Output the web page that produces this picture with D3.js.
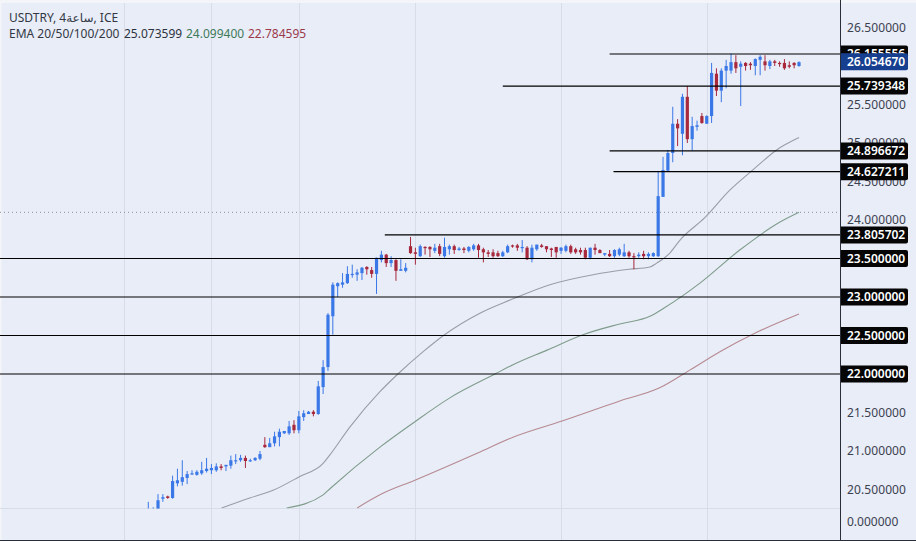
<!DOCTYPE html>
<html><head><meta charset="utf-8">
<style>
html,body{margin:0;padding:0;background:#e8edf8;overflow:hidden}
svg{display:block}
text{font-family:"Noto Sans","DejaVu Sans",sans-serif}
</style>
<script src="https://cdnjs.cloudflare.com/ajax/libs/d3/7.8.5/d3.min.js"></script>
</head><body>
<svg id="c" width="916" height="541"></svg>
<script>
const opens=[20.20,20.20,20.24,20.38,20.41,20.39,20.58,20.60,20.65,20.70,
20.69,20.71,20.74,20.75,20.75,20.80,20.80,20.81,20.87,20.88,
20.91,20.87,20.88,20.90,21.08,21.05,21.10,21.18,21.23,21.23,
21.34,21.27,21.44,21.48,21.51,21.48,21.83,22.09,22.75,23.14,
23.16,23.18,23.29,23.29,23.31,23.39,23.35,23.30,23.48,23.55,
23.44,23.48,23.34,23.34,23.66,23.58,23.53,23.65,23.65,23.60,
23.66,23.53,23.62,23.66,23.61,23.63,23.60,23.62,23.67,23.62,
23.58,23.58,23.57,23.53,23.58,23.67,23.67,23.64,23.64,23.49,
23.62,23.67,23.66,23.63,23.65,23.60,23.60,23.66,23.62,23.61,
23.61,23.51,23.64,23.61,23.55,23.56,23.53,23.55,23.53,23.58,
23.53,23.53,23.56,23.53,23.53,23.53,24.30,24.64,24.87,25.25,
25.12,25.60,25.05,25.21,25.35,25.25,25.35,25.90,25.68,25.94,
25.94,26.05,25.99,26.04,26.03,26.00,26.08,26.06,26.00,26.06,
26.04,26.04,26.01,26.04,26.00];
const highs=[20.34,20.27,20.44,20.44,20.42,20.68,20.77,20.88,20.74,20.75,
20.75,20.86,20.91,20.83,20.84,20.83,20.82,20.94,20.96,20.95,
20.94,20.90,20.92,21.00,21.18,21.17,21.25,21.29,21.26,21.39,
21.40,21.52,21.53,21.52,21.53,21.91,22.18,22.79,23.19,23.19,
23.31,23.40,23.42,23.36,23.39,23.40,23.39,23.51,23.60,23.56,
23.53,23.49,23.49,23.44,23.78,23.64,23.68,23.66,23.66,23.69,
23.69,23.77,23.68,23.68,23.65,23.65,23.66,23.69,23.69,23.64,
23.61,23.62,23.60,23.60,23.68,23.68,23.69,23.74,23.66,23.68,
23.68,23.69,23.66,23.64,23.65,23.65,23.68,23.68,23.64,23.64,
23.64,23.64,23.69,23.62,23.57,23.61,23.62,23.64,23.69,23.60,
23.57,23.58,23.60,23.58,23.58,24.63,24.82,24.91,25.47,25.31,
25.64,25.74,25.34,25.29,25.39,25.36,26.04,25.97,25.97,26.08,
26.16,26.14,26.06,26.05,26.05,26.10,26.14,26.14,26.08,26.08,
26.06,26.09,26.06,26.05,26.06];
const lows=[20.18,20.18,20.22,20.34,20.38,20.38,20.54,20.55,20.57,20.69,
20.68,20.69,20.72,20.70,20.73,20.75,20.74,20.77,20.83,20.86,
20.78,20.86,20.87,20.88,21.04,21.05,21.06,21.06,21.22,21.21,
21.23,21.23,21.39,21.48,21.45,21.47,21.74,22.04,22.51,23.00,
23.12,23.17,23.25,23.21,23.22,23.29,23.25,23.04,23.45,23.39,
23.39,23.21,23.34,23.32,23.56,23.42,23.52,23.55,23.52,23.57,
23.53,23.51,23.55,23.56,23.60,23.57,23.58,23.60,23.51,23.45,
23.52,23.51,23.52,23.52,23.57,23.64,23.60,23.58,23.48,23.45,
23.60,23.64,23.58,23.52,23.51,23.56,23.58,23.56,23.56,23.55,
23.49,23.49,23.55,23.57,23.53,23.52,23.51,23.53,23.52,23.51,
23.36,23.51,23.49,23.49,23.52,23.52,24.30,24.64,24.75,24.96,
24.84,25.00,24.90,25.16,25.25,25.25,25.26,25.61,25.53,25.71,
25.90,25.91,25.48,25.94,25.95,25.88,25.88,25.94,25.96,26.00,
25.99,25.95,25.97,25.97,25.99];
const closes=[20.24,20.22,20.36,20.40,20.39,20.61,20.62,20.66,20.70,20.71,
20.73,20.75,20.77,20.78,20.80,20.78,20.82,20.88,20.88,20.91,
20.87,20.88,20.91,20.96,21.05,21.10,21.19,21.25,21.26,21.32,
21.27,21.45,21.49,21.51,21.48,21.84,22.09,22.77,23.16,23.18,
23.19,23.30,23.30,23.32,23.38,23.36,23.30,23.51,23.55,23.44,
23.48,23.34,23.36,23.38,23.57,23.56,23.66,23.64,23.62,23.64,
23.56,23.65,23.66,23.61,23.63,23.61,23.65,23.67,23.61,23.58,
23.56,23.53,23.53,23.58,23.66,23.66,23.64,23.65,23.49,23.64,
23.68,23.65,23.62,23.61,23.58,23.64,23.66,23.58,23.58,23.58,
23.51,23.64,23.61,23.57,23.57,23.53,23.61,23.62,23.58,23.53,
23.52,23.55,23.53,23.56,23.57,24.31,24.65,24.87,25.25,25.19,
25.60,25.05,25.22,25.23,25.26,25.35,25.91,25.68,25.94,26.00,
26.05,25.97,26.03,26.00,26.01,26.09,26.12,26.01,26.06,26.04,
26.03,25.97,25.99,26.01,26.05];

// EMA lines: candle position and value
const ema20Idx=[15.1,20.9,25.7,31.2,36,37.4,41.5,47.7,51.4,56.6,61,68.3,74.5,82.7,91.6,99,103.3,104.7,107.4,109.5,114.6,119.8,124.5,129.4,134];
const ema20Val=[20.26,20.39,20.49,20.67,20.84,20.95,21.31,21.77,22.00,22.29,22.51,22.79,22.96,23.16,23.29,23.36,23.39,23.44,23.57,23.74,24.03,24.39,24.65,24.91,25.07];
const ema50Idx=[28.5,36,37.4,47.7,54.9,62.1,71.4,75.1,82.1,89.5,97.1,103.3,106.3,113.6,121.8,130,134];
const ema50Val=[20.26,20.43,20.51,21.05,21.38,21.69,22.00,22.12,22.31,22.51,22.65,22.75,22.86,23.18,23.61,23.97,24.10];
const ema100Idx=[43,48.3,54.9,67.7,75.1,85.2,97.1,105.3,111.5,117.7,124.9,134];
const ema100Val=[20.26,20.45,20.62,20.97,21.18,21.39,21.65,21.82,22.05,22.29,22.53,22.78];

// Horizontal levels: value and the candle they start from (null = whole width)
const levels=[26.155556,25.739348,24.896672,24.627211,23.805702,23.5,23,22.5,22];
const levelStart=[95,73,95,95.8,48.7,null,null,null,null];
const lastPrice=26.05467;
const crosshairPrice=24.1;
const tickValues=[26.5,26,25.5,25,24.5,24,23.5,23,22.5,22,21.5,21,20.5];
const gridCandles=[-5,13,31,55,85,115];
const title="USDTRY, 4\u0633\u0627\u0639\u0629, ICE";
const emaLabel="EMA 20/50/100/200";
const emaValues=["25.073599","24.099400","22.784595"];
const lowerPaneLabel="0.000000";

const W=916,H=541,axisX=840,paneBottom=508.5;
const svg=d3.select("#c");
const x=d3.scaleLinear().domain([0,134]).range([148.3,799]);
const y=d3.scaleLinear().domain([20.5,26.5]).range([489.5,27.5]);
const fmt=d3.format(".6f");
const blue="#3b78e7",red="#a8283c";

svg.append("rect").attr("width",W).attr("height",H).attr("fill","#e8edf8");
svg.append("rect").attr("width",W).attr("height",3).attr("fill","#f4f5f8");
svg.append("rect").attr("width",1.5).attr("height",H).attr("fill","#f4f5f8");

// Grid
svg.append("g").selectAll("line").data(gridCandles).join("line")
 .attr("x1",d=>Math.round(x(d))+.5).attr("x2",d=>Math.round(x(d))+.5)
 .attr("y1",3).attr("y2",540).attr("stroke","#d6dce8").attr("stroke-width",1);
svg.append("line").attr("x1",0).attr("x2",axisX).attr("y1",paneBottom).attr("y2",paneBottom).attr("stroke","#d6dce8");
svg.append("line").attr("x1",0).attr("x2",axisX).attr("y1",y(crosshairPrice)).attr("y2",y(crosshairPrice))
 .attr("stroke","#8a8f9a").attr("stroke-dasharray","1 3").attr("stroke-width",1);

const defs=svg.append("defs");
defs.append("clipPath").attr("id","pane").append("rect").attr("x",0).attr("y",0).attr("width",axisX).attr("height",paneBottom);
const pane=svg.append("g").attr("clip-path","url(#pane)");

// EMA lines
const line=d3.line().x(d=>x(d[0])).y(d=>y(d[1])).curve(d3.curveMonotoneX);
[[ema20Idx,ema20Val,"#9a9da6"],[ema50Idx,ema50Val,"#7f9c8b"],[ema100Idx,ema100Val,"#b78a92"]].forEach(([a,b,c])=>{
 pane.append("path").attr("d",line(a.map((v,i)=>[v,b[i]]))).attr("fill","none").attr("stroke",c).attr("stroke-width",1.1);
});

// Candles
const idx=d3.range(opens.length);
const g=pane.append("g");
g.selectAll("line").data(idx).join("line")
 .attr("x1",i=>x(i)).attr("x2",i=>x(i)).attr("y1",i=>y(highs[i])).attr("y2",i=>y(lows[i]))
 .attr("stroke",i=>closes[i]>=opens[i]?blue:red).attr("stroke-width",1);
g.selectAll("rect").data(idx).join("rect")
 .attr("x",i=>x(i)-1.6).attr("width",3.2)
 .attr("y",i=>y(Math.max(opens[i],closes[i])))
 .attr("height",i=>Math.max(1.2,Math.abs(y(opens[i])-y(closes[i]))))
 .attr("fill",i=>closes[i]>=opens[i]?blue:red);

// Level lines
svg.append("g").selectAll("line").data(levels).join("line")
 .attr("x1",(d,i)=>levelStart[i]===null?0:x(levelStart[i])).attr("x2",axisX)
 .attr("y1",d=>y(d)).attr("y2",d=>y(d)).attr("stroke","#000").attr("stroke-width",1.2);

// Axis
const ax=svg.append("g").attr("transform",`translate(${axisX},0)`)
 .call(d3.axisRight(y).tickValues(tickValues).tickSize(0).tickPadding(7).tickFormat(fmt));
ax.select(".domain").remove();
ax.selectAll("text").attr("fill","#3c4150").attr("font-size",12).style("letter-spacing","0.1px");
svg.append("text").attr("x",847).attr("y",522).attr("dy",".32em").attr("font-size",12).attr("fill","#3c4150").text(lowerPaneLabel);

// Labels
function tag(v,fill){
 const cy=y(v),h=17;
 svg.append("path").attr("d",`M${axisX},${cy-h/2}H906a2,2 0 0 1 2,2V${cy+h/2-2}a2,2 0 0 1 -2,2H${axisX}Z`).attr("fill",fill);
 svg.append("text").attr("x",847).attr("y",cy).attr("dy",".36em").attr("font-size",12).attr("font-weight",600).attr("fill","#fff").text(fmt(v));
}
levels.forEach(v=>tag(v,"#050505"));
tag(lastPrice,"#173f8f");

svg.append("line").attr("x1",axisX+.5).attr("x2",axisX+.5).attr("y1",0).attr("y2",H).attr("stroke","#2a2e39").attr("stroke-width",1);
svg.append("rect").attr("x",0).attr("y",540).attr("width",W).attr("height",1).attr("fill","#2a2e39");

// Legend
svg.append("text").attr("x",9).attr("y",22).attr("font-size",12).attr("fill","#333844").text(title);
svg.append("text").attr("x",9).attr("y",38).attr("font-size",12).attr("fill","#333844").text(emaLabel);
const evx=[124,186,248],evc=["#2d3240","#3f7a58","#9c3a4c"];
svg.append("g").selectAll("text").data(emaValues).join("text")
 .attr("x",(d,i)=>evx[i]).attr("y",38).attr("font-size",12).attr("fill",(d,i)=>evc[i]).text(d=>d);
</script>
</body></html>
